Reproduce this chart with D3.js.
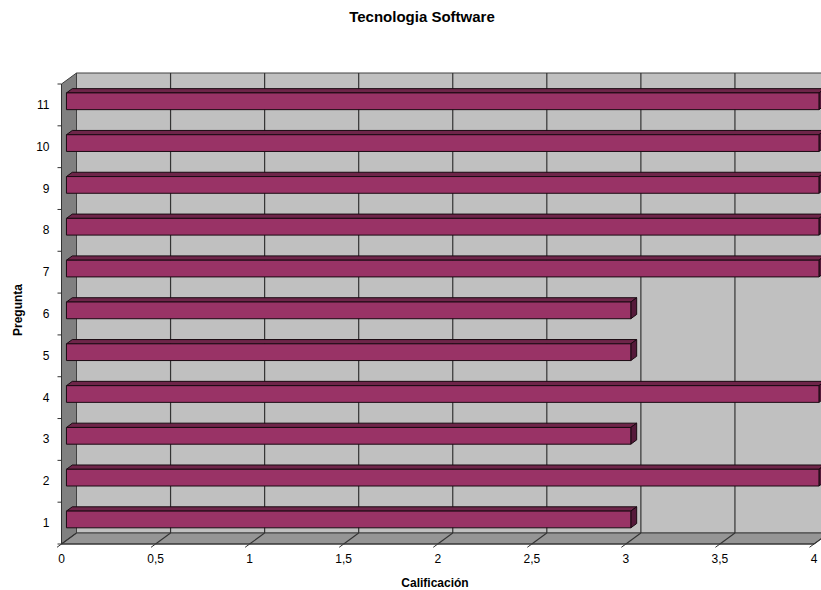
<!DOCTYPE html>
<html>
<head>
<meta charset="utf-8">
<script src="https://cdn.jsdelivr.net/npm/d3@7"></script>
<style>
  html, body { margin: 0; padding: 0; background: #fff; }
  svg { display: block; font-family: "Liberation Sans", Arial, sans-serif; }
</style>
</head>
<body>
<svg id="chart" width="821" height="590"></svg>
<script>
// Survey results: score per question
const preguntas = ["1", "2", "3", "4", "5", "6", "7", "8", "9", "10", "11"];
const calificacion = [3, 4, 3, 4, 3, 3, 4, 4, 4, 4, 4];
const xTicks = [0, 0.5, 1, 1.5, 2, 2.5, 3, 3.5, 4];
const xTickLabels = ["0", "0,5", "1", "1,5", "2", "2,5", "3", "3,5", "4"];

const titulo = "Tecnologia Software";
const ejeY = "Pregunta";
const ejeX = "Calificación";

(function () {
  const svg = d3.select("#chart");

  // Front plane of the 3D box
  const pLeft = 61.5, pRight = 814, pTop = 84, pBottom = 544;
  // Depth offset of the back plane
  const DX = 15, DY = -11;

  const x = d3.scaleLinear().domain([0, 4]).range([pLeft, pRight]);
  const y = d3.scaleBand().domain(preguntas.slice().reverse()).range([pTop, pBottom]).paddingInner(0).paddingOuter(0);

  // project a point at a depth fraction (0 = front, 1 = back)
  const P = (px, py, d) => [px + DX * d, py + DY * d];
  const poly = pts => "M" + pts.map(p => p.join(",")).join("L") + "Z";

  // Walls
  const g = svg.append("g");
  g.append("path")
    .attr("d", poly([P(pLeft, pTop, 1), P(pRight, pTop, 1), P(pRight, pBottom, 1), P(pLeft, pBottom, 1)]))
    .attr("fill", "#c0c0c0").attr("stroke", "#404040").attr("stroke-width", 1);
  g.append("path")
    .attr("d", poly([P(pLeft, pTop, 0), P(pLeft, pTop, 1), P(pLeft, pBottom, 1), P(pLeft, pBottom, 0)]))
    .attr("fill", "#808080").attr("stroke", "#404040").attr("stroke-width", 1);
  g.append("path")
    .attr("d", poly([P(pLeft, pBottom, 0), P(pLeft, pBottom, 1), P(pRight, pBottom, 1), P(pRight, pBottom, 0)]))
    .attr("fill", "#959595").attr("stroke", "#404040").attr("stroke-width", 1);

  // Gridlines on the back wall and floor
  xTicks.forEach(v => {
    const px = x(v);
    const b = P(px, pBottom, 1), t = P(px, pTop, 1), f = P(px, pBottom, 0);
    if (v > 0) {
      g.append("line").attr("x1", t[0]).attr("y1", t[1]).attr("x2", b[0]).attr("y2", b[1])
        .attr("stroke", "#333").attr("stroke-width", 1.2);
    }
    g.append("line").attr("x1", b[0]).attr("y1", b[1]).attr("x2", f[0]).attr("y2", f[1])
      .attr("stroke", "#333").attr("stroke-width", 1.1);
    const tk = P(px, pBottom, -0.3);
    g.append("line").attr("x1", f[0]).attr("y1", f[1]).attr("x2", tk[0]).attr("y2", tk[1])
      .attr("stroke", "#333").attr("stroke-width", 1);
  });

  // Front axis lines
  g.append("line").attr("x1", pLeft).attr("y1", pTop).attr("x2", pLeft).attr("y2", pBottom)
    .attr("stroke", "#333").attr("stroke-width", 1);
  g.append("line").attr("x1", pLeft).attr("y1", pBottom).attr("x2", pRight).attr("y2", pBottom)
    .attr("stroke", "#333").attr("stroke-width", 1);

  // Category boundary ticks on the vertical axis
  const bounds = preguntas.map(c => y(c)).concat([pBottom]);
  bounds.forEach(by => {
    g.append("line").attr("x1", pLeft - 4).attr("y1", by).attr("x2", pLeft).attr("y2", by)
      .attr("stroke", "#333").attr("stroke-width", 1);
  });

  // Bars drawn as 3D boxes
  const d1 = 0.33, d2 = 0.72;
  const barFrac = 0.4;
  const bars = svg.append("g");
  preguntas.forEach((c, i) => {
    const v = calificacion[i];
    const cy = y(c) + y.bandwidth() / 2;
    const h = y.bandwidth() * barFrac;
    const y0 = cy - h / 2, y1 = cy + h / 2;
    const x0 = x(0), x1 = x(v);
    const grp = bars.append("g").attr("stroke", "#1a0a12").attr("stroke-width", 1).attr("stroke-linejoin", "round");
    grp.append("path")
      .attr("d", poly([P(x0, y0, d1), P(x1, y0, d1), P(x1, y0, d2), P(x0, y0, d2)]))
      .attr("fill", "#6e2549");
    grp.append("path")
      .attr("d", poly([P(x1, y0, d1), P(x1, y0, d2), P(x1, y1, d2), P(x1, y1, d1)]))
      .attr("fill", "#55193a");
    grp.append("path")
      .attr("d", poly([P(x0, y0, d1), P(x1, y0, d1), P(x1, y1, d1), P(x0, y1, d1)]))
      .attr("fill", "#993366");
  });

  // Tick labels
  const lab = svg.append("g").attr("font-size", 12).attr("fill", "#000");
  preguntas.forEach(c => {
    lab.append("text").attr("x", pLeft - 12).attr("y", y(c) + y.bandwidth() / 2 + 4)
      .attr("text-anchor", "end").text(c);
  });
  xTicks.forEach((v, i) => {
    lab.append("text").attr("x", x(v)).attr("y", 563)
      .attr("text-anchor", "middle").text(xTickLabels[i]);
  });

  // Titles
  svg.append("text").attr("x", 422).attr("y", 22).attr("text-anchor", "middle")
    .attr("font-size", 15).attr("font-weight", "bold").text(titulo);
  svg.append("text").attr("transform", "translate(22,310) rotate(-90)").attr("text-anchor", "middle")
    .attr("font-size", 12).attr("font-weight", "bold").text(ejeY);
  svg.append("text").attr("x", 435).attr("y", 587).attr("text-anchor", "middle")
    .attr("font-size", 12).attr("font-weight", "bold").text(ejeX);
})();
</script>
</body>
</html>
